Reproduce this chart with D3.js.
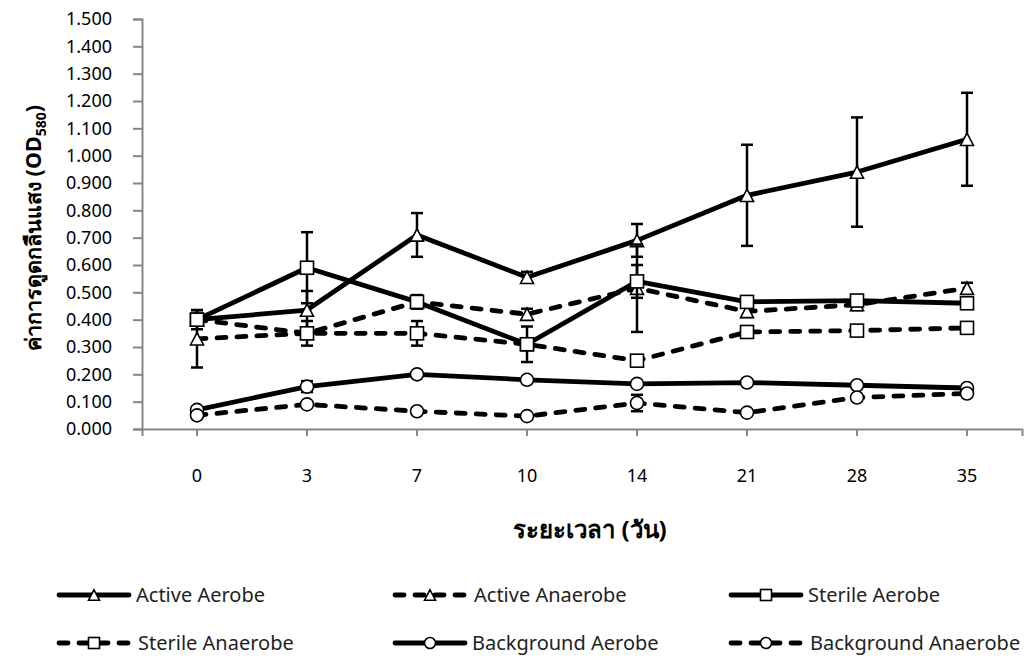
<!DOCTYPE html>
<html>
<head>
<meta charset="utf-8">
<script src="https://cdn.jsdelivr.net/npm/d3@7"></script>
<style>
  body { margin: 0; background: #fff; }
  svg { display: block; font-family: "Noto Sans", "DejaVu Sans", sans-serif; }
</style>
</head>
<body>
<figure id="line" style="margin:0"></figure>
<script>
// days on the x axis
const days = ["0", "3", "7", "10", "14", "21", "28", "35"];
const yTicks = [0, 0.1, 0.2, 0.3, 0.4, 0.5, 0.6, 0.7, 0.8, 0.9, 1.0, 1.1, 1.2, 1.3, 1.4, 1.5];

// mean OD580 and error per series
const activeAerobe = [0.400, 0.435, 0.710, 0.555, 0.690, 0.855, 0.940, 1.060];
const activeAerobeErr = [0.02, 0.07, 0.08, 0.02, 0.06, 0.185, 0.20, 0.17];
const activeAnaerobe = [0.330, 0.350, 0.465, 0.420, 0.515, 0.430, 0.455, 0.515];
const activeAnaerobeErr = [0.105, 0.02, 0.02, 0.02, 0.16, 0.02, 0.02, 0.02];
const sterileAerobe = [0.400, 0.590, 0.465, 0.310, 0.540, 0.465, 0.470, 0.460];
const sterileAerobeErr = [0.035, 0.13, 0.025, 0.065, 0.06, 0.01, 0.01, 0.01];
const sterileAnaerobe = [0.400, 0.350, 0.350, 0.310, 0.250, 0.355, 0.360, 0.370];
const sterileAnaerobeErr = [0.01, 0.045, 0.045, 0.01, 0.01, 0.01, 0.01, 0.01];
const backgroundAerobe = [0.070, 0.155, 0.200, 0.180, 0.165, 0.170, 0.160, 0.150];
const backgroundAerobeErr = [0.01, 0.02, 0.01, 0.01, 0.01, 0.01, 0.01, 0.01];
const backgroundAnaerobe = [0.050, 0.090, 0.065, 0.047, 0.095, 0.060, 0.115, 0.130];
const backgroundAnaerobeErr = [0.01, 0.01, 0.01, 0.01, 0.03, 0.01, 0.01, 0.01];

const seriesNames = ["Active Aerobe", "Active Anaerobe", "Sterile Aerobe",
  "Sterile Anaerobe", "Background Aerobe", "Background Anaerobe"];

const series = [
  { name: seriesNames[0], values: activeAerobe, err: activeAerobeErr, dashed: false, marker: "triangle" },
  { name: seriesNames[1], values: activeAnaerobe, err: activeAnaerobeErr, dashed: true, marker: "triangle" },
  { name: seriesNames[2], values: sterileAerobe, err: sterileAerobeErr, dashed: false, marker: "square" },
  { name: seriesNames[3], values: sterileAnaerobe, err: sterileAnaerobeErr, dashed: true, marker: "square" },
  { name: seriesNames[4], values: backgroundAerobe, err: backgroundAerobeErr, dashed: false, marker: "circle" },
  { name: seriesNames[5], values: backgroundAnaerobe, err: backgroundAnaerobeErr, dashed: true, marker: "circle" }
];

const width = 1024, height = 660;
const plotLeft = 142, plotRight = 1022, plotTop = 19, plotBottom = 429;
const axisColor = "#868686";

const svg = d3.select("figure#line")
  .append("svg")
  .attr("width", width)
  .attr("height", height);

const x = d3.scaleBand()
  .domain(days)
  .range([plotLeft, plotRight])
  .padding(0);
const cx = d => x(d) + x.bandwidth() / 2;

const y = d3.scaleLinear()
  .domain([0, 1.5])
  .range([plotBottom, plotTop]);

// y axis
const yAxis = svg.append("g")
  .attr("transform", "translate(" + plotLeft + ",0)")
  .call(d3.axisLeft(y).tickValues(yTicks).tickSize(9).tickSizeOuter(9).tickPadding(21).tickFormat(d3.format(".3f")));
yAxis.selectAll("path, line").attr("stroke", axisColor).attr("stroke-width", 2);
yAxis.selectAll("text").attr("fill", "#000").style("font-size", "18px").style("font-family", "Noto Sans");

// x axis
const xAxis = svg.append("g")
  .attr("transform", "translate(0," + plotBottom + ")")
  .call(d3.axisBottom(x).tickSize(7).tickSizeOuter(7).tickPadding(33));
xAxis.selectAll("path, line").attr("stroke", axisColor).attr("stroke-width", 2);
xAxis.selectAll("text").attr("fill", "#000").style("font-size", "18px").style("font-family", "Noto Sans");

// axis titles
svg.append("text")
  .attr("x", 590)
  .attr("y", 538)
  .attr("text-anchor", "middle")
  .style("font-size", "24px")
  .style("font-weight", "bold")
  .text("ระยะเวลา (วัน)");

const yTitle = svg.append("text")
  .attr("transform", "translate(41,228) rotate(-90)")
  .attr("text-anchor", "middle")
  .style("font-size", "21.5px")
  .style("font-weight", "bold");
yTitle.append("tspan").text("ค่าการดูดกลืนแสง (OD");
yTitle.append("tspan").attr("dy", 5).style("font-size", "14px").text("580");
yTitle.append("tspan").attr("dy", -5).text(")");

function drawMarker(g, type, px, py, s) {
  if (type === "triangle") {
    const h = s * 0.95;
    g.append("path")
      .attr("d", "M" + px + "," + (py - h / 2) + "L" + (px + s / 2) + "," + (py + h / 2) + "L" + (px - s / 2) + "," + (py + h / 2) + "Z")
      .attr("fill", "#fff").attr("stroke", "#000").attr("stroke-width", 1.6);
  } else if (type === "square") {
    g.append("rect")
      .attr("x", px - s / 2).attr("y", py - s / 2)
      .attr("width", s).attr("height", s)
      .attr("fill", "#fff").attr("stroke", "#000").attr("stroke-width", 1.6);
  } else {
    g.append("circle")
      .attr("cx", px).attr("cy", py).attr("r", s / 2)
      .attr("fill", "#fff").attr("stroke", "#000").attr("stroke-width", 1.6);
  }
}

const line = d3.line()
  .x((d, i) => cx(days[i]))
  .y(d => y(d));

series.forEach(s => {
  const g = svg.append("g");
  g.append("path")
    .datum(s.values)
    .attr("d", line)
    .attr("fill", "none")
    .attr("stroke", "#000")
    .attr("stroke-width", 4.8)
    .attr("stroke-linecap", "round")
    .attr("stroke-linejoin", "round")
    .attr("stroke-dasharray", s.dashed ? "9,11" : null);

  // error bars
  s.values.forEach((v, i) => {
    const px = cx(days[i]);
    const e = s.err[i];
    g.append("line")
      .attr("x1", px).attr("x2", px)
      .attr("y1", y(v - e)).attr("y2", y(v + e))
      .attr("stroke", "#000").attr("stroke-width", 2.5);
    [v - e, v + e].forEach(c => {
      g.append("line")
        .attr("x1", px - 6).attr("x2", px + 6)
        .attr("y1", y(c)).attr("y2", y(c))
        .attr("stroke", "#000").attr("stroke-width", 2.5);
    });
  });

  s.values.forEach((v, i) => drawMarker(g, s.marker, cx(days[i]), y(v), 13));
});

// legend, 3 columns x 2 rows
const legend = svg.append("g");
series.forEach((s, i) => {
  const col = i % 3, row = Math.floor(i / 3);
  const x0 = 57 + col * 336;
  const ly = 595 + row * 48;
  legend.append("line")
    .attr("x1", x0 + 2).attr("x2", x0 + 72)
    .attr("y1", ly).attr("y2", ly)
    .attr("stroke", "#000")
    .attr("stroke-width", 4.8)
    .attr("stroke-linecap", "round")
    .attr("stroke-dasharray", s.dashed ? "9,11" : null);
  drawMarker(legend, s.marker, x0 + 37, ly, 11);
  legend.append("text")
    .attr("x", x0 + 79 + (s.dashed ? 2 : 0))
    .attr("y", ly + 7)
    .style("font-size", "20px")
    .attr("fill", "#222")
    .text(s.name);
});
</script>
</body>
</html>
